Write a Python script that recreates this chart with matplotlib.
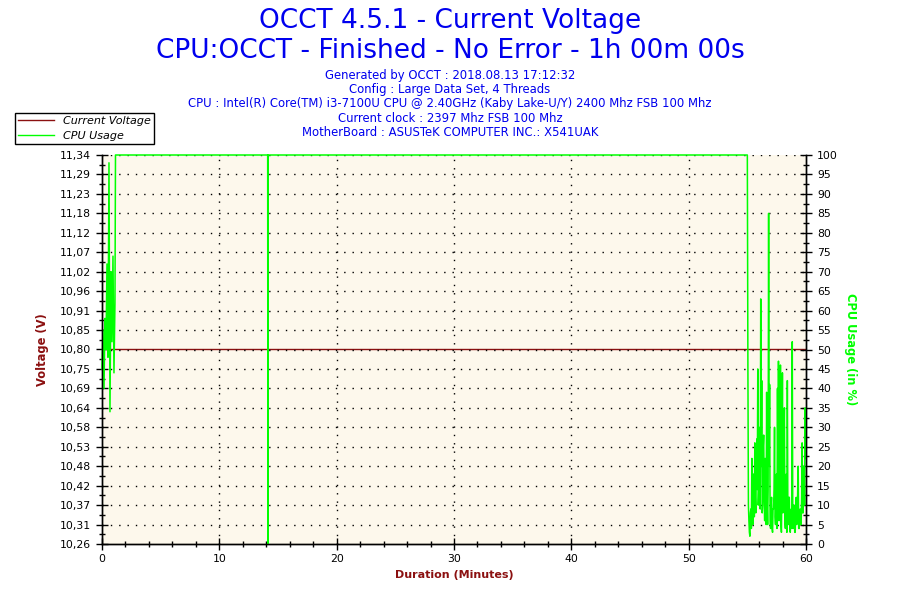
import numpy as np
import matplotlib
matplotlib.use("Agg")
import matplotlib.pyplot as plt
from matplotlib.ticker import FixedLocator, MultipleLocator, FuncFormatter
from matplotlib.lines import Line2D

# first minute: warm-up noise (CPU %)
start_t0 = 0.0
start_step = 0.085
start_cpu = [45, 55, 40, 58, 50, 72, 48, 98, 34, 70, 52, 74, 44, 62]

# plateau at full load, with one short dip
plateau_t = [1.15, 14.12, 14.14, 14.16, 55.00]
plateau_cpu = [100, 100, 0, 100, 100]

# last five minutes: idle noise (CPU %)
end_t0 = 55.05
end_step = 0.042
end_cpu = [44, 10, 6, 3, 2, 8, 9, 4, 22, 12,
           5, 15, 18, 7, 26, 12, 8, 20, 27, 14,
           45, 10, 14, 24, 30, 9, 63, 20, 42, 8,
           10, 25, 28, 12, 6, 22, 16, 5, 39, 10,
           5, 14, 85, 20, 41, 6, 4, 10, 12, 4,
           3, 9, 9, 14, 30, 7, 5, 12, 18, 4,
           40, 12, 47, 6, 8, 20, 46, 5, 3, 16,
           44, 8, 12, 25, 35, 6, 4, 14, 18, 3,
           42, 9, 5, 12, 12, 4, 3, 8, 9, 4,
           52, 6, 4, 10, 8, 3, 3, 9, 12, 5,
           6, 14, 20, 4, 4, 7, 9, 5, 5, 12,
           26, 8, 8, 16, 20, 10, 35, 22]

# voltage stays flat
volt_t = [0, 60]
volt = [10.80, 10.80]

start_t = [start_t0 + i * start_step for i in range(len(start_cpu))]
end_t = [end_t0 + i * end_step for i in range(len(end_cpu))]
cpu_t = start_t + plateau_t + end_t
cpu = start_cpu + plateau_cpu + end_cpu

title_lines = ["OCCT 4.5.1 - Current Voltage",
               "CPU:OCCT - Finished - No Error - 1h 00m 00s"]
info_lines = ["Generated by OCCT : 2018.08.13 17:12:32",
              "Config : Large Data Set, 4 Threads",
              "CPU : Intel(R) Core(TM) i3-7100U CPU @ 2.40GHz (Kaby Lake-U/Y) 2400 Mhz FSB 100 Mhz",
              "Current clock : 2397 Mhz FSB 100 Mhz",
              "MotherBoard : ASUSTeK COMPUTER INC.: X541UAK"]

red = "#8b1010"
green = "#00ff00"
blue = "#0000ee"

fig = plt.figure(figsize=(9, 6), dpi=100)
ax = fig.add_axes([102/900, 1-544/600, (806-102)/900, (544-155)/600])
ax.set_facecolor("#fdf8ec")
ax2 = ax.twinx()

ax.plot(volt_t, volt, color=red, lw=1)
ax2.plot(cpu_t, cpu, color=green, lw=1.1, clip_on=False)

ax.set_xlim(0, 60)
ax.set_ylim(10.26, 11.34)
ax2.set_ylim(0, 100)

vt = np.linspace(10.26, 11.34, 21)
ax.yaxis.set_major_locator(FixedLocator(vt))
ax.yaxis.set_minor_locator(FixedLocator(vt[:-1] + 0.027))
ax.yaxis.set_major_formatter(FuncFormatter(lambda v, p: ("%.2f" % v).replace(".", ",")))
ax.xaxis.set_major_locator(MultipleLocator(10))
ax.xaxis.set_minor_locator(MultipleLocator(2))
ax2.yaxis.set_major_locator(MultipleLocator(5))
ax2.yaxis.set_minor_locator(MultipleLocator(2.5))

for a in (ax, ax2):
    a.tick_params(which="major", direction="inout", length=9, width=1, labelsize=7.8, colors="black")
    a.tick_params(which="minor", direction="inout", length=5, width=1)
    a.spines["top"].set_visible(False)
    for s in a.spines.values():
        s.set_linewidth(1)
ax.tick_params(axis="x", pad=3)

# dotted grid
for x in range(10, 60, 10):
    ax.axvline(x, color="black", lw=1, ls=(0, (1, 5)), zorder=0.5)
for y in range(5, 101, 5):
    ax2.axhline(y, color="black", lw=1, ls=(0, (1, 5)), zorder=0.5)

ax.set_xlabel("Duration (Minutes)", color=red, fontsize=8, fontweight="bold", labelpad=4)
ax.set_ylabel("Voltage (V)", color=red, fontsize=8.3, fontweight="bold", labelpad=8)
ax2.set_ylabel("CPU Usage (in %)", color=green, fontsize=8.3, fontweight="bold",
               rotation=-90, labelpad=14)

fig.text(0.5, 1-21/600, title_lines[0], ha="center", va="center", fontsize=19, color=blue)
fig.text(0.5, 1-51/600, title_lines[1], ha="center", va="center", fontsize=19, color=blue)
for i, line in enumerate(info_lines):
    fig.text(0.5, 1-(76+14*i)/600, line, ha="center", va="center", fontsize=8.4, color=blue)

handles = [Line2D([], [], color=red, lw=1), Line2D([], [], color=green, lw=1)]
leg = fig.legend(handles, ["Current Voltage", "CPU Usage"], loc="upper left",
                 bbox_to_anchor=(15/900, 1-113/600), fancybox=False, framealpha=1,
                 edgecolor="black", prop={"style": "italic", "size": 8},
                 handlelength=3.2, borderpad=0.3, labelspacing=0.4, borderaxespad=0)
leg.get_frame().set_linewidth(1)

plt.savefig("out.png", dpi=100)
